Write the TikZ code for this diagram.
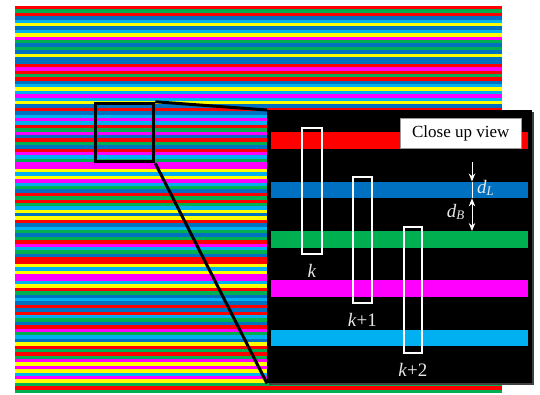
\documentclass[tikz,border=0pt]{standalone}
\usepackage{fontspec}
\setmainfont{Liberation Serif}
\usetikzlibrary{arrows.meta}
\definecolor{sR}{HTML}{FF0000}
\definecolor{sG}{HTML}{00B050}
\definecolor{sB}{HTML}{0070C0}
\definecolor{sY}{HTML}{FFFF00}
\definecolor{sC}{HTML}{00B0F0}
\definecolor{sM}{HTML}{FF00FF}
\definecolor{lbl}{HTML}{E8E8E8}
\tikzset{
  band/.style={inner sep=0pt, minimum width=257pt, minimum height=16.5pt, anchor=north west},
  win/.style={draw=white, line width=1.8pt, inner sep=0pt, anchor=north west},
  lab/.style={text=lbl, inner sep=0pt, font=\fontsize{19}{22}\selectfont\itshape},
  dim/.style={draw=white, line width=1pt},
  dtip/.tip={Stealth[length=8pt,width=6.5pt]},
}
\begin{document}
\begin{tikzpicture}[x=1pt,y=-1pt]
\useasboundingbox (0,0) rectangle (540,394);
% background stripes
\foreach \c [count=\i] in {R,G,R,B,C,Y,B,C,Y,M,G,B,G,B,Y,B,B,R,M,R,G,R,B,C,Y,
  C,M,C,Y,B,R,B,C,M,C,R,G,M,B,R,G,B,R,M,C,G,M,M,Y,C,Y,M,C,G,B,R,G,
  R,G,C,Y,B,Y,R,B,C,G,B,G,R,M,C,G,B,R,
  R,Y,C,Y,M,M,C,Y,R,G,B,C,B,R,B,R,C,G,B,R,M,G,C,B,Y,R,G,R,G,M,Y,M,Y,C,M,Y,G,R,G}
{
  \fill[s\c] (15,{6+(\i-1)*3.395}) rectangle (502,{6+\i*3.395+0.2});
}
% zoom frame
\node[draw=black, line width=3.5pt, inner sep=0pt, minimum width=58pt, minimum height=58pt] (zoom) at (124.5,132.5) {};
% close-up box
\fill[black!75] (269,112) rectangle (534,385);
\node[fill=black, inner sep=0pt, minimum width=265pt, minimum height=273pt, anchor=north west] (close) at (267,110) {};
\draw[line width=3pt] (zoom.north east) -- (close.north west);
\draw[line width=3pt] (zoom.south east) -- (close.south west);
% close-up bands
\node[band, fill=sR] (s1) at (271,132) {};
\node[band, fill=sB] (s2) at (271,181.5) {};
\node[band, fill=sG] (s3) at (271,231) {};
\node[band, fill=sM] (s4) at (271,280) {};
\node[band, fill=sC] (s5) at (271,329.5) {};
% label box
\node[fill=white, draw=black!40, line width=0.5pt, inner sep=0pt, minimum width=121pt, minimum height=30pt, anchor=north west,
  font=\fontsize{17}{20}\selectfont] (cuv) at (400,118) {Close up view};
% windows
\node[win, minimum width=20pt, minimum height=126pt] (w1) at (301,127) {};
\node[win, minimum width=19pt, minimum height=126pt] (w2) at (352,176) {};
\node[win, minimum width=18pt, minimum height=126pt] (w3) at (403,226) {};
\node[lab, anchor=north] (k1) at ([yshift=-9pt]w1.south) {k};
\node[lab, anchor=north] (k2) at ([yshift=-9pt]w2.south) {k\textup{+1}};
\node[lab, anchor=north] (k3) at ([yshift=-9pt]w3.south) {k\textup{+2}};
% dimension arrows
\coordinate (a0) at (472,162);
\draw[dim, -{dtip}] (a0) -- (a0 |- s2.north);
\draw[dim, line width=0.6pt] (a0 |- s2.north) -- (a0 |- s2.south);
\draw[dim, {dtip}-{dtip}] (a0 |- s2.south) -- (a0 |- s3.north);
\node[lab, anchor=west] (dl) at (477,188) {d\textsubscript{\fontsize{13}{14}\selectfont L}};
\node[lab, anchor=east] (db) at (465,212) {d\textsubscript{\fontsize{13}{14}\selectfont B}};
\end{tikzpicture}
\end{document}
